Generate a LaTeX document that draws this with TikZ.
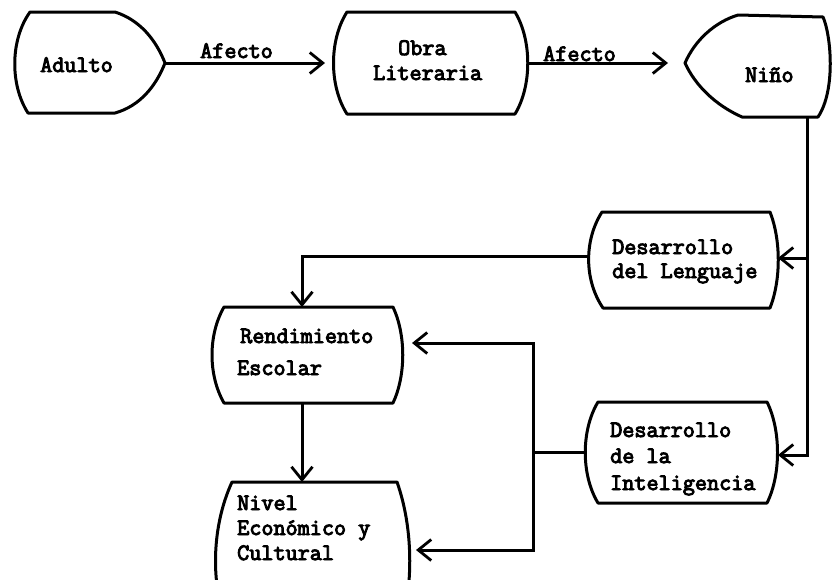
\documentclass[tikz,border=0pt]{standalone}
\usepackage{fontspec}
\setmonofont{Latin Modern Mono}[FakeBold=4]
\usetikzlibrary{arrows.meta}
\begin{document}
\begin{tikzpicture}[x=1pt,y=-1pt,
  shp/.style={line width=3pt, line join=round},
  conn/.style={line width=3pt, line join=miter},
  arr/.style={conn, -{Straight Barb[length=13pt,width=21pt,line width=2.8pt]}},
  txt/.style={font=\ttfamily\fontsize{23.5}{26}\selectfont, inner sep=0pt, anchor=base west}]
\useasboundingbox (0,0) rectangle (832,579);
\clip (0,0) rectangle (832,579);

% shapes
\draw[shp] (30,12) -- (115,12) .. controls (140,20) and (156,40) .. (165,63)
  .. controls (156,86) and (140,106) .. (115,113) -- (28,113)
  .. controls (10,85) and (10,40) .. cycle;
\draw[shp] (347,12) -- (515,12) .. controls (532,40) and (532,86) .. (515,114)
  -- (347,114) .. controls (329,86) and (329,40) .. cycle;
\draw[shp] (738,15) -- (823,17) .. controls (831,35) and (836,90) .. (818,117)
  -- (742,117) .. controls (715,105) and (695,85) .. (685,63)
  .. controls (695,40) and (715,22) .. cycle;
\draw[shp] (602,212) -- (770,212) .. controls (781,240) and (781,280) .. (770,308)
  -- (603,308) .. controls (584,280) and (584,240) .. cycle;
\draw[shp] (224,307) -- (393,307) .. controls (406,335) and (406,375) .. (393,403)
  -- (224,403) .. controls (208,375) and (208,335) .. cycle;
\draw[shp] (232,640) .. controls (210,592) and (210,530) .. (232,482) -- (397,482)
  .. controls (414,530) and (414,592) .. (397,640);
\draw[shp] (598,402) -- (767,402) .. controls (781,430) and (781,475) .. (767,503)
  -- (598,503) .. controls (581,475) and (581,430) .. cycle;

% texts
\node[txt] (adulto) at (40,72) {Adulto};
\node[txt] (af1) at (200,58) {Afecto};
\node[txt] (obra1) at (398,55) {Obra};
\node[txt] (obra2) at (373,80) {Literaria};
\node[txt] (af2) at (543,61) {Afecto};
\node[txt] (nino) at (745,82) {Niño};
\node[txt] (len1) at (612,254) {Desarrollo};
\node[txt] (len2) at (612,278) {del Lenguaje};
\node[txt] (ren1) at (240,343) {Rendimiento};
\node[txt] (ren2) at (237,375) {Escolar};
\node[txt] (niv1) at (237,510) {Nivel};
\node[txt] (niv2) at (237,535) {Económico y};
\node[txt] (niv3) at (237,560) {Cultural};
\node[txt] (int1) at (610,437) {Desarrollo};
\node[txt] (int2) at (610,463) {de la};
\node[txt] (int3) at (610,490) {Inteligencia};

% connector end points
\coordinate (adultR) at (165,63);
\coordinate (obraIn) at (325,63);
\coordinate (obraR) at (528,63);
\coordinate (ninoIn) at (668,63);
\coordinate (ninoB) at (807,117);
\coordinate (jLen) at (807,258);
\coordinate (lenR) at (778,258);
\coordinate (lenL) at (588,256);
\coordinate (renT) at (302,307);
\coordinate (renB) at (302,403);
\coordinate (renR) at (412,343);
\coordinate (nivT) at (302,482);
\coordinate (nivR) at (416,550);
\coordinate (intR) at (778,455);
\coordinate (intL) at (585,452);
\coordinate (jInt) at (533,452);

% connectors
\draw[arr] (adultR) -- (obraIn);
\draw[arr] (obraR) -- (ninoIn);
\draw[arr] (ninoB) |- (intR);
\draw[arr] (jLen) -- (lenR);
\draw[arr] (lenL) -| (renT);
\draw[arr] (renB) -- (nivT);
\draw[conn] (intL) -- (jInt);
\draw[arr] (jInt) |- (renR);
\draw[arr] (jInt) |- (nivR);
\end{tikzpicture}
\end{document}
